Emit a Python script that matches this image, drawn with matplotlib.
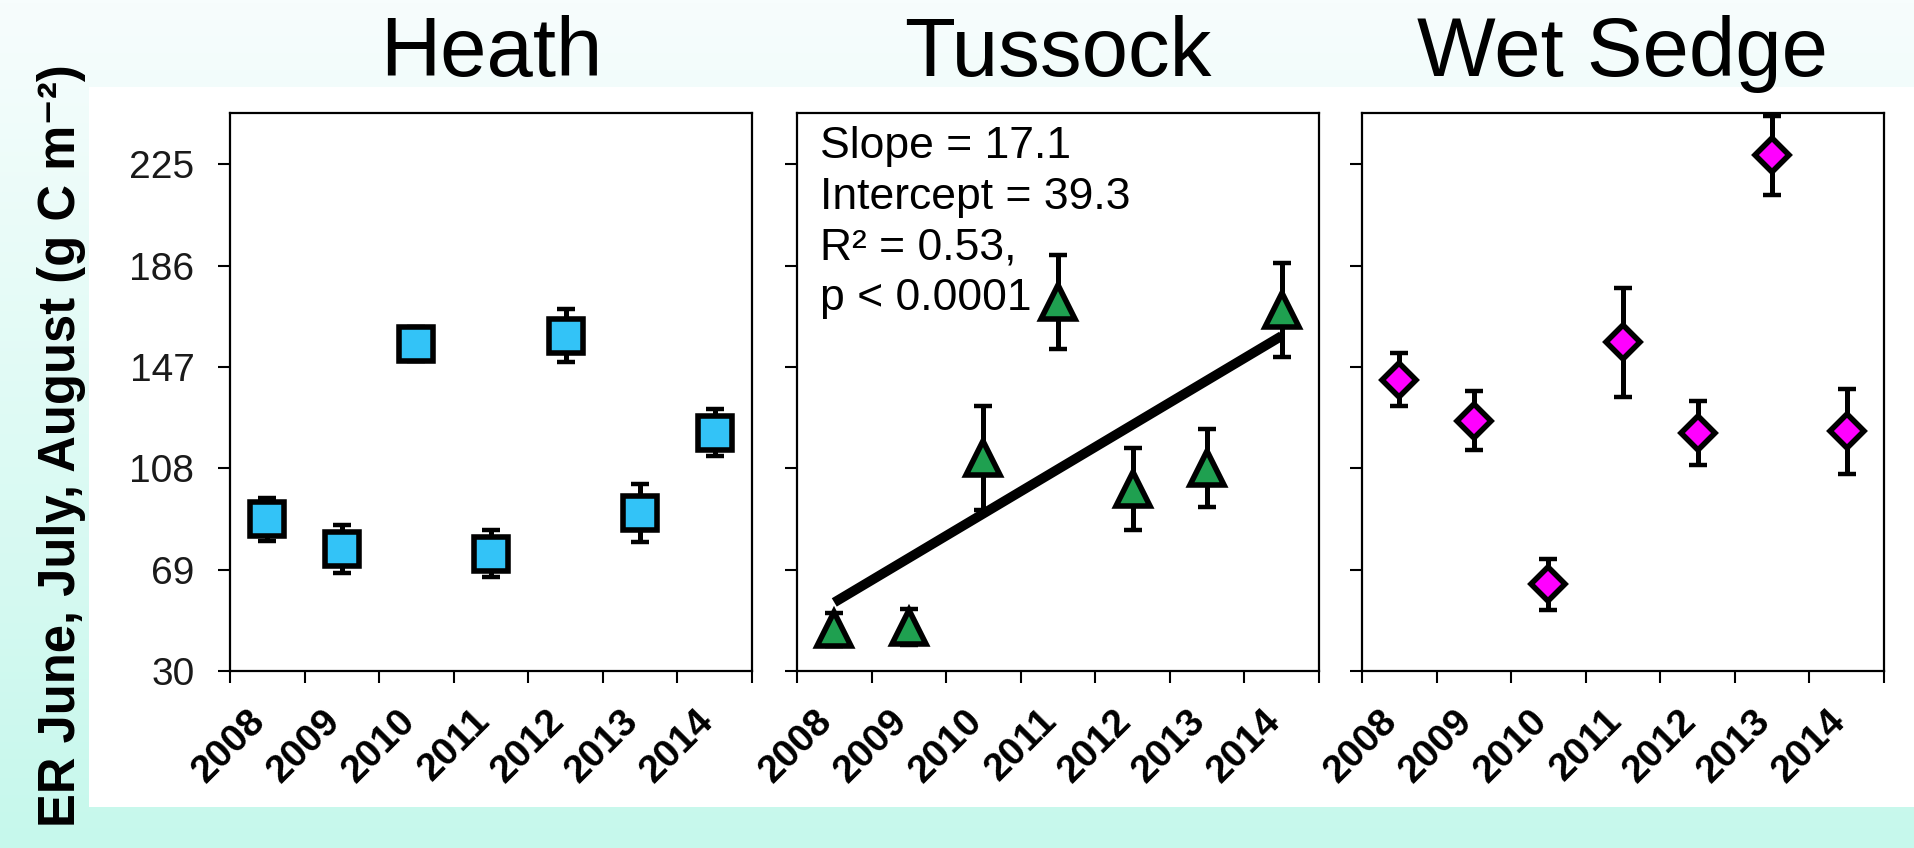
import matplotlib
matplotlib.use("Agg")
import matplotlib.pyplot as plt
import numpy as np
from matplotlib.patches import Rectangle
from matplotlib.ticker import FixedLocator, NullFormatter

plt.rcParams["font.family"] = ["Liberation Sans", "DejaVu Sans"]

# --- donnees ---
years = ["2008", "2009", "2010", "2011", "2012", "2013", "2014"]
heath_mean = [88.4, 77.0, 156.0, 75.2, 159.1, 90.8, 121.8]
heath_se = [8.3, 9.3, 6.5, 9.0, 10.2, 11.3, 9.2]
tussock_mean = [46.0, 47.0, 112.0, 172.0, 100.0, 108.0, 169.0]
tussock_se = [6.5, 7.0, 20.0, 18.0, 15.7, 15.0, 18.0]
wet_mean = [142.2, 126.3, 63.3, 156.6, 121.6, 228.6, 122.2]
wet_se = [10.2, 11.3, 10.0, 21.0, 12.3, 15.2, 16.3]
y_ticks = [30, 69, 108, 147, 186, 225]
tussock_slope = 17.1
tussock_intercept = 39.3
tussock_stats = ["Slope = 17.1", "Intercept = 39.3", "R² = 0.53,", "p < 0.0001"]

W, H = 1915, 848
fig = plt.figure(figsize=(W / 100, H / 100), dpi=100)

# fond degrade (blanc -> aigue-marine) + cadre blanc
bg = fig.add_axes([0, 0, 1, 1], zorder=-10)
grad = np.linspace(0, 1, 256).reshape(-1, 1)
top_c = np.array([0xf7, 0xfd, 0xfd]) / 255
bot_c = np.array([0xc6, 0xf8, 0xec]) / 255
img = top_c * (1 - grad[..., None]) + bot_c * grad[..., None]
bg.imshow(img, aspect="auto", extent=[0, 1, 0, 1])
bg.add_patch(Rectangle((89 / W, 1 - 807 / H), (W - 89) / W, (807 - 87) / H,
                       facecolor="white", edgecolor="none"))
bg.set_xlim(0, 1)
bg.set_ylim(0, 1)
bg.axis("off")

panels = [
    ("Heath", 230, heath_mean, heath_se, "s", "#33c3f7", 24, True),
    ("Tussock", 797, tussock_mean, tussock_se, "^", "#1fa050", 25, False),
    ("Wet Sedge", 1362, wet_mean, wet_se, "D", "#ff00ff", 17, False),
]

x = np.arange(len(years))
axes = []
for title, left_px, mean, se, marker, color, ms, show_y in panels:
    ax = fig.add_axes([left_px / W, 1 - 671 / H, 522 / W, (671 - 112.5) / H])
    axes.append(ax)
    ax.errorbar(x, mean, yerr=se, fmt="none", ecolor="black", elinewidth=3.6,
                capsize=6.5, capthick=3.2, zorder=2)
    ax.plot(x, mean, linestyle="none", marker=marker, markersize=ms,
            markerfacecolor=color, markeredgecolor="black", markeredgewidth=4,
            zorder=4)
    ax.set_xlim(-0.5, len(years) - 0.5)
    ax.set_ylim(30, 245)

    ax.set_xticks(x)
    ax.set_xticklabels(years, rotation=45, ha="right", va="baseline",
                       rotation_mode="anchor", fontsize=28, fontweight="bold")
    ax.tick_params(axis="x", which="major", length=0, pad=37)
    ax.xaxis.set_minor_locator(FixedLocator(np.arange(-0.5, len(years), 1.0)))
    ax.xaxis.set_minor_formatter(NullFormatter())
    ax.tick_params(axis="x", which="minor", length=8.6, width=1.5, direction="out")

    ax.set_yticks(y_ticks)
    ax.tick_params(axis="y", length=8.6, width=1.5, direction="out", pad=17,
                   labelsize=28, labelcolor="#1a1a1a")
    if not show_y:
        ax.set_yticklabels([])
    for sp in ax.spines.values():
        sp.set_linewidth(1.6)

    fig.text((left_px + 261) / W, 1 - 76 / H, title, ha="center",
             va="baseline", fontsize=60)

# droite de regression (Tussock) : y = intercept + slope * annee (1..7)
ax_t = axes[1]
fit = tussock_intercept + tussock_slope * (x + 1)
ax_t.plot([x[0], x[-1]], [fit[0], fit[-1]], color="black", linewidth=7,
          solid_capstyle="butt", zorder=3)
for i, line in enumerate(tussock_stats):
    ax_t.text(0.044, 0.918 - i * 0.0903, line, transform=ax_t.transAxes,
              fontsize=32, va="baseline", ha="left")

fig.text(75 / W, 1 - 827 / H, "ER June, July, August (g C m⁻²)",
         rotation=90, rotation_mode="anchor", ha="left", va="baseline",
         fontsize=36.5, fontweight="bold")

fig.savefig("out.png", dpi=100)
